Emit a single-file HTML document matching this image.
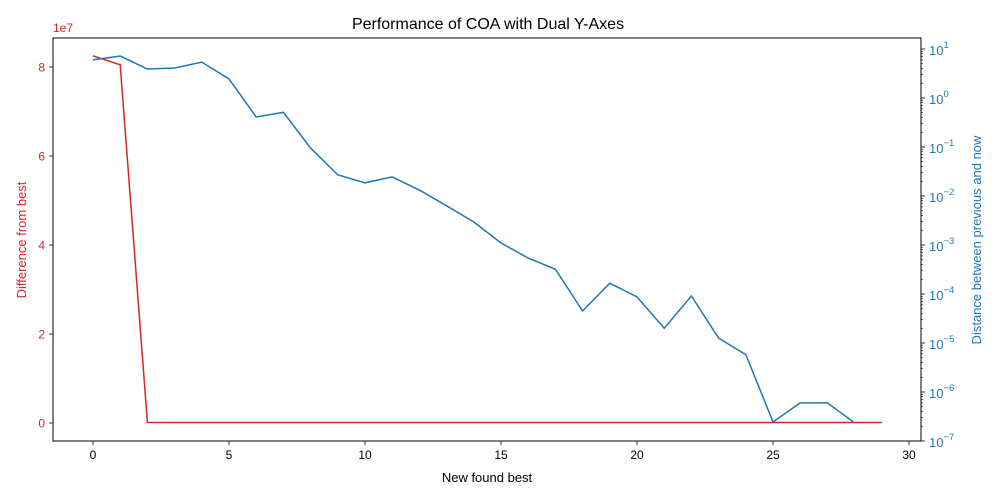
<!DOCTYPE html>
<html><head><meta charset="utf-8"><style>
body{margin:0;background:#fff}
svg{display:block;font-family:"Liberation Sans","DejaVu Sans",sans-serif}
</style></head><body>
<svg id="chart" width="1000" height="500" viewBox="0 0 1000 500"></svg>
<script>
const xValues=[0,1,2,3,4,5,6,7,8,9,10,11,12,13,14,15,16,17,18,19,20,21,22,23,24,25,26,27,28,29];
const diffValues=[8.25e7,8.05e7,1.5e5,1e5,1e5,1e5,1e5,1e5,1e5,1e5,1e5,1e5,1e5,1e5,1e5,1e5,1e5,1e5,1e5,1e5,1e5,1e5,1e5,1e5,1e5,1e5,1e5,1e5,1e5,1e5];
const distValues=[6.0,7.2,3.9,4.1,5.4,2.45,0.41,0.51,0.095,0.027,0.0186,0.0245,0.0132,0.0063,0.00295,0.0011,0.00054,0.00032,4.5e-5,1.66e-4,8.7e-5,2.0e-5,9.1e-5,1.26e-5,5.8e-6,2.45e-7,6.0e-7,6.0e-7,2.35e-7];
const xTicks=[0,5,10,15,20,25,30];
const leftTicks=[0,2e7,4e7,6e7,8e7];
const leftTickLabels=["0","2","4","6","8"];
const rightTicks=[1,0,-1,-2,-3,-4,-5,-6,-7];

const NS="http://www.w3.org/2000/svg";
const svg=document.getElementById('chart');
const L=53,R=921,T=38,B=441;
const RED="#d62728",BLUE="#1f77b4";
function X(v){return 93+v*27.2;}
function YL(v){return 423-v*(89/2e7);}
function YR(v){return 441-(Math.log10(v)+7)*49;}
function YRe(e){return 441-(e+7)*49;}
function mk(tag,attrs,name,txt){const e=document.createElementNS(NS,tag);for(const k in attrs)e.setAttribute(k,attrs[k]);


if(txt!==undefined)e.textContent=txt;svg.appendChild(e);return e;}

mk('text',{x:488,y:29,'text-anchor':'middle','font-size':16,fill:'#000'},'chart-title','Performance of COA with Dual Y-Axes');
xTicks.forEach(t=>{mk('line',{x1:X(t),x2:X(t),y1:B,y2:B+4,stroke:'#000','stroke-width':0.8},'x-tick');
mk('text',{x:X(t),y:B+18,'text-anchor':'middle','font-size':12,fill:'#000'},'x-tick-label',String(t));});
mk('text',{x:487,y:482,'text-anchor':'middle','font-size':13,fill:'#000'},'x-axis-title','New found best');
leftTicks.forEach((t,i)=>{mk('line',{x1:L-4,x2:L,y1:YL(t),y2:YL(t),stroke:'#000','stroke-width':0.8},'left-tick');
mk('text',{x:L-8,y:YL(t)+4.5,'text-anchor':'end','font-size':12,fill:RED},'left-tick-label',leftTickLabels[i]);});
mk('text',{x:53,y:32,'font-size':12,fill:RED},'left-axis-offset','1e7');
mk('text',{x:26,y:240,'text-anchor':'middle','font-size':13,fill:RED,transform:'rotate(-90 26 240)'},'left-axis-title','Difference from best');
rightTicks.forEach(e=>{const y=YRe(e);mk('line',{x1:R,x2:R+4,y1:y,y2:y,stroke:'#000','stroke-width':0.8},'right-tick');
const t=mk('text',{x:R+8,y:y+6,'font-size':13,fill:BLUE},'right-tick-label');
t.textContent='10';const s=document.createElementNS(NS,'tspan');s.setAttribute('dy','-7');s.setAttribute('font-size','9.5');s.textContent=(e<0?'−':'')+Math.abs(e);t.appendChild(s);
if(e>-7)for(let m=2;m<10;m++){const ym=YRe(e-1+Math.log10(m));mk('line',{x1:R,x2:R+2,y1:ym,y2:ym,stroke:'#000','stroke-width':0.6},'right-minor-tick');}});
for(let m=2;m<10;m++){const ym=YRe(1+Math.log10(m));if(ym>=T)mk('line',{x1:R,x2:R+2,y1:ym,y2:ym,stroke:'#000','stroke-width':0.6},'right-minor-tick');}
mk('text',{x:981,y:240,'text-anchor':'middle','font-size':13,fill:BLUE,transform:'rotate(-90 981 240)'},'right-axis-title','Distance between previous and now');
mk('polyline',{points:diffValues.map((v,i)=>X(xValues[i])+','+YL(v)).join(' '),fill:'none',stroke:RED,'stroke-width':1.5},'difference-line');
mk('polyline',{points:distValues.map((v,i)=>X(xValues[i])+','+YR(v)).join(' '),fill:'none',stroke:BLUE,'stroke-width':1.5},'distance-line');
mk('rect',{x:L,y:T,width:R-L,height:B-T,fill:'none',stroke:'#000','stroke-width':1},'plot-frame');
</script>
</body></html>
